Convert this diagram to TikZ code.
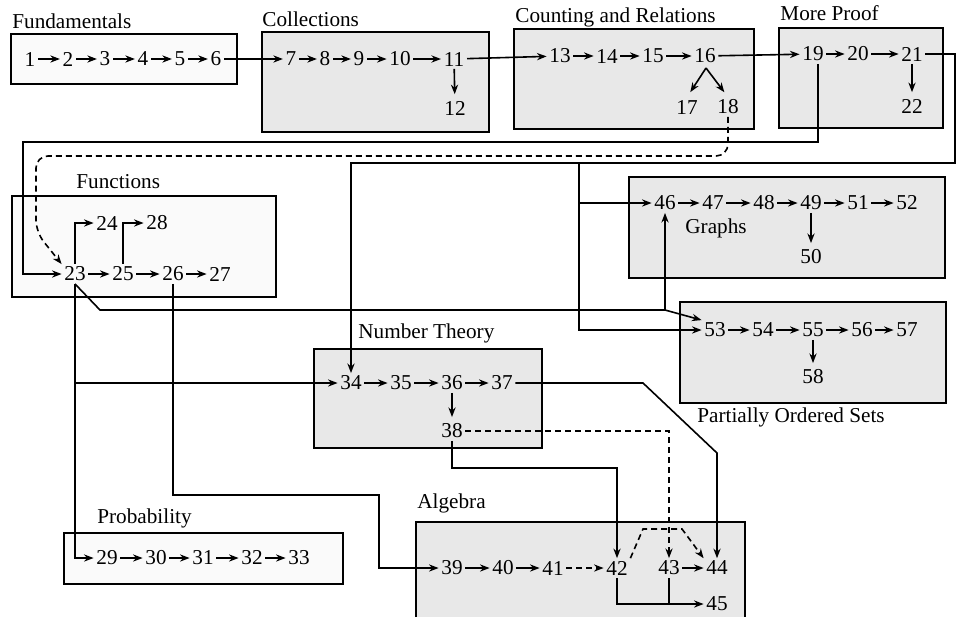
\documentclass[tikz,border=0pt]{standalone}
\usepackage{fontspec}
\setmainfont{Liberation Serif}
\usetikzlibrary{arrows.meta, calc}

\begin{document}
\begin{tikzpicture}[
    x=0.5pt, y=-0.5pt,
    every node/.style = {font=\fontsize{10.6}{12}\selectfont},
    num/.style    = {inner sep=1.2pt},
    title/.style  = {anchor=base west, inner sep=0pt},
    shaded/.style = {draw, line width=0.7pt, fill=gray!18},
    plain/.style  = {draw, line width=0.7pt, fill=gray!4},
    arr/.style    = {-{Stealth[length=4.8pt, width=3.6pt]}, line width=0.8pt},
    link/.style   = {line width=0.8pt},
    dlink/.style  = {line width=0.8pt, dash pattern=on 3pt off 2pt},
]
\useasboundingbox (0,0) rectangle (961,617);

% Areas
\draw[plain]  (11,34)   rectangle (237,84);
\draw[shaded] (262,32)  rectangle (489,132);
\draw[shaded] (514,29)  rectangle (754,129);
\draw[shaded] (779,28)  rectangle (943,128);
\draw[plain]  (12,196)  rectangle (276,297);
\draw[shaded] (629,177) rectangle (945,278);
\draw[shaded] (680,302) rectangle (946,403);
\draw[shaded] (314,349) rectangle (542,448);
\draw[plain]  (64,533)  rectangle (343,584);
% Algebra runs off the bottom edge
\fill[gray!18] (416,522) rectangle (745,617);
\draw[line width=0.7pt] (416,617) |- (745,522) -- (745,617);

% Area titles
\node[title] (tfund)  at (12,28)   {Fundamentals};
\node[title] (tcoll)  at (262,26)  {Collections};
\node[title] (tcount) at (515,22)  {Counting and Relations};
\node[title] (tproof) at (780,20)  {More Proof};
\node[title] (tfunc)  at (76,188)  {Functions};
\node[title] (tnum)   at (358,338) {Number Theory};
\node[title] (tprob)  at (97,523)  {Probability};
\node[title] (talg)   at (417,508) {Algebra};
\node[title] (tposet) at (697,422) {Partially Ordered Sets};
\node (tgraph) at (716,228) {Graphs};

% Sections
\foreach \n/\x/\y in {1/30/59, 2/68/59, 3/105/59, 4/143/59, 5/180/59, 6/216/59,
    7/291/59, 8/325/59, 9/359/59, 10/400/59, 11/454/59, 12/455/108,
    13/560/56, 14/607/56, 15/653/56, 16/705/56, 17/687/107, 18/728/107,
    19/813/54, 20/858/54, 21/912/54, 22/912/106,
    23/75/274, 24/107/223, 25/123/274, 26/173/274, 27/220/274, 28/157/223,
    29/107/558, 30/156/558, 31/203/558, 32/252/558, 33/299/558,
    34/351/383, 35/401/383, 36/452/383, 37/502/383, 38/452/431,
    39/452/568, 40/503/568, 41/553/568, 42/617/568, 43/669/568, 44/717/568, 45/717/604,
    46/665/203, 47/713/203, 48/764/203, 49/811/203, 50/811/257, 51/858/203, 52/907/203,
    53/715/330, 54/763/330, 55/813/330, 56/862/330, 57/907/330, 58/813/377}
  \node[num] (n\n) at (\x,\y) {\n};

% Straight steps
\foreach \a/\b in {1/2, 2/3, 3/4, 4/5, 5/6, 6/7, 7/8, 8/9, 9/10, 10/11, 11/13,
    13/14, 14/15, 15/16, 16/19, 19/20, 20/21, 23/25, 25/26, 26/27,
    29/30, 30/31, 31/32, 32/33, 34/35, 35/36, 36/37, 39/40, 40/41, 43/44,
    46/47, 47/48, 48/49, 49/51, 51/52, 53/54, 54/55, 55/56, 56/57}
  \draw[arr] (n\a) -- (n\b);
\foreach \a/\b in {11/12, 21/22, 36/38, 49/50, 55/58}
  \draw[arr, shorten >=2pt] (n\a) -- (n\b);
\draw[arr] (n23.north) |- (n24.west);
\draw[arr] (n25.north) |- (n28.west);
\draw[dlink, -{Stealth[length=4.8pt, width=3.6pt]}] (n41) -- (n42);

% Fork below 16
\coordinate (fork) at (706,68);
\draw[arr, shorten >=3pt] (fork) -- (n17.north);
\draw[arr, shorten >=3pt] (fork) -- (n18.north);

% Long links
\coordinate (c19) at (23,142);
\draw[arr] ([xshift=2.5pt]n19.south) |- (c19) |- (n23.west);
\coordinate (c18) at (36,156);
\draw[dlink, -{Stealth[length=4.8pt, width=3.6pt]}, rounded corners=6pt]
    (n18.south) |- (c18) -- (36,232) -- (n23.north west);
\coordinate (c21) at (955,163);
\draw[arr] (n21.east) -| (c21) -| (n34.north);
\coordinate (jpo) at (579,163);
\draw[arr] (jpo) |- (n46.west);
\draw[arr] (jpo) |- (n53.west);
\coordinate (c23) at (665,310);
\draw[link] (n23.south) -- (100,310) -- (c23);
\draw[arr] (c23) -- (n46.south);
\draw[arr] (c23) -- (n53.north west);
\draw[arr] (n23.south) |- (n29.west);
\draw[arr] (n23.south |- n34) -- (n34.west);
\coordinate (c26) at (379,495);
\draw[arr] (n26.south) |- (c26) |- (n39.west);
\coordinate (k37a) at (643,383);
\coordinate (k37b) at (717,453);
\draw[arr] (n37.east) -- (k37a) -- (k37b) -- (n44.north);
\coordinate (c38) at (452,468);
\draw[arr] (n38.south) -- (c38) -| (n42.north);
\draw[dlink, -{Stealth[length=4.8pt, width=3.6pt]}] (n38.east) -| (n43.north);
\coordinate (d42a) at (643,529);
\coordinate (d42b) at (682,529);
\draw[dlink, -{Stealth[length=4.8pt, width=3.6pt]}]
    (n42.north east) -- (d42a) -- (d42b) -- (n44.north west);
\draw[arr] (n42.south) |- (n45.west);
\draw[link] (n43.south) -- (n43.south |- n45.west);

\end{tikzpicture}
\end{document}
